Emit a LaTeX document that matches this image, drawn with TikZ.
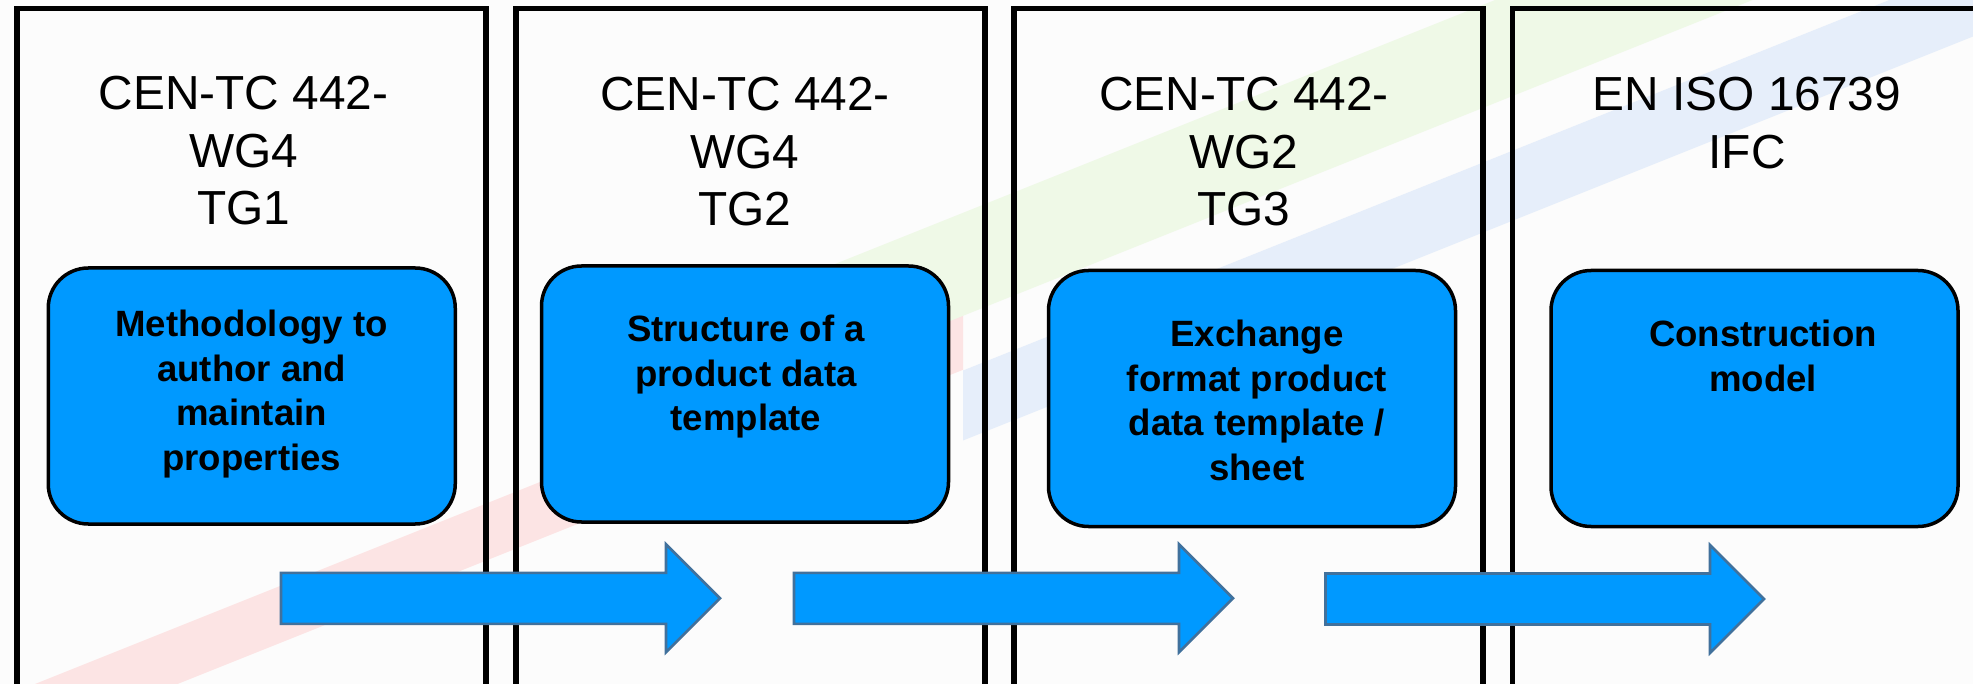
\documentclass[tikz,border=0pt]{standalone}
\usepackage{fontspec}
\setmainfont{Liberation Sans}
\definecolor{bg}{RGB}{252,252,252}
\definecolor{boxblue}{RGB}{0,153,255}
\definecolor{arrowedge}{RGB}{65,113,156}
\definecolor{stripepink}{RGB}{252,228,228}
\definecolor{stripegreen}{RGB}{239,249,231}
\definecolor{stripeblue}{RGB}{230,238,250}
\tikzset{
  panel/.style={draw=black, line width=5.5pt, rectangle, inner sep=0pt, outer sep=0pt,
    anchor=north west, minimum width=469pt, minimum height=760pt},
  pdbox/.style={draw=black, line width=3.5pt, fill=boxblue, rectangle, rounded corners=40pt,
    inner sep=0pt, outer sep=0pt, minimum width=407pt, minimum height=256pt},
  header/.style={anchor=north, inner sep=0pt, align=center,
    font=\fontsize{47.8}{57.5}\selectfont},
  boxtext/.style={anchor=north, inner sep=0pt, align=center,
    font=\fontsize{36.6}{44.5}\selectfont\bfseries},
  barrow/.style={fill=boxblue, draw=arrowedge, line width=2.6pt, line join=miter},
}
\newcommand\blockarr[3]{%
  \filldraw[barrow] (#1,#3-25.5) -- (#2-54,#3-25.5) -- (#2-54,#3-54) -- (#2,#3)
    -- (#2-54,#3+54) -- (#2-54,#3+25.5) -- (#1,#3+25.5) -- cycle;}
\begin{document}
\begin{tikzpicture}[x=1pt, y=-1pt]
  \useasboundingbox (0,0) rectangle (1973,684);
  \clip (0,0) rectangle (1973,684);
  \fill[bg] (0,0) rectangle (1973,684);
  % background stripes
  \fill[stripepink]  (-50,718) -- (963,312.8) -- (963,369.8) -- (-50,775) -- cycle;
  \fill[stripegreen] (700,318) -- (1800,-122) -- (1800,-19) -- (700,421) -- cycle;
  \fill[stripeblue]  (963,370.5) -- (2100,-84.3) -- (2100,-14.3) -- (963,440.5) -- cycle;
  % panels
  \node[panel] (p1) at (17,8.5) {};
  \node[panel] (p2) at (516,8.5) {};
  \node[panel] (p3) at (1014,8.5) {};
  \node[panel] (p4) at (1512.5,8.5) {};
  % headers
  \node[header] (h1) at (243.5,76) {CEN-TC 442-\\WG4\\TG1};
  \node[header] (h2) at (745,77) {CEN-TC 442-\\WG4\\TG2};
  \node[header] (h3) at (1244,77) {CEN-TC 442-\\WG2\\TG3};
  \node[header] (h4) at (1747,77) {EN ISO 16739\\IFC};
  % boxes
  \node[pdbox] (b1) at (251.75,396) {};
  \node[pdbox] (b2) at (745,394) {};
  \node[pdbox] (b3) at (1252,398.5) {};
  \node[pdbox] (b4) at (1754.5,398.5) {};
  \node[boxtext] (t1) at (251.7,310) {Methodology to\\author and\\maintain\\properties};
  \node[boxtext] (t2) at (746,315) {Structure of a\\product data\\template};
  \node[boxtext] (t3) at (1257,320) {Exchange\\format product\\data template /\\sheet};
  \node[boxtext] (t4) at (1763,320) {Construction\\model};
  % block arrows
  \blockarr{281}{720}{598.3}
  \blockarr{794}{1233}{598.3}
  \blockarr{1325.5}{1764}{599}
\end{tikzpicture}
\end{document}
